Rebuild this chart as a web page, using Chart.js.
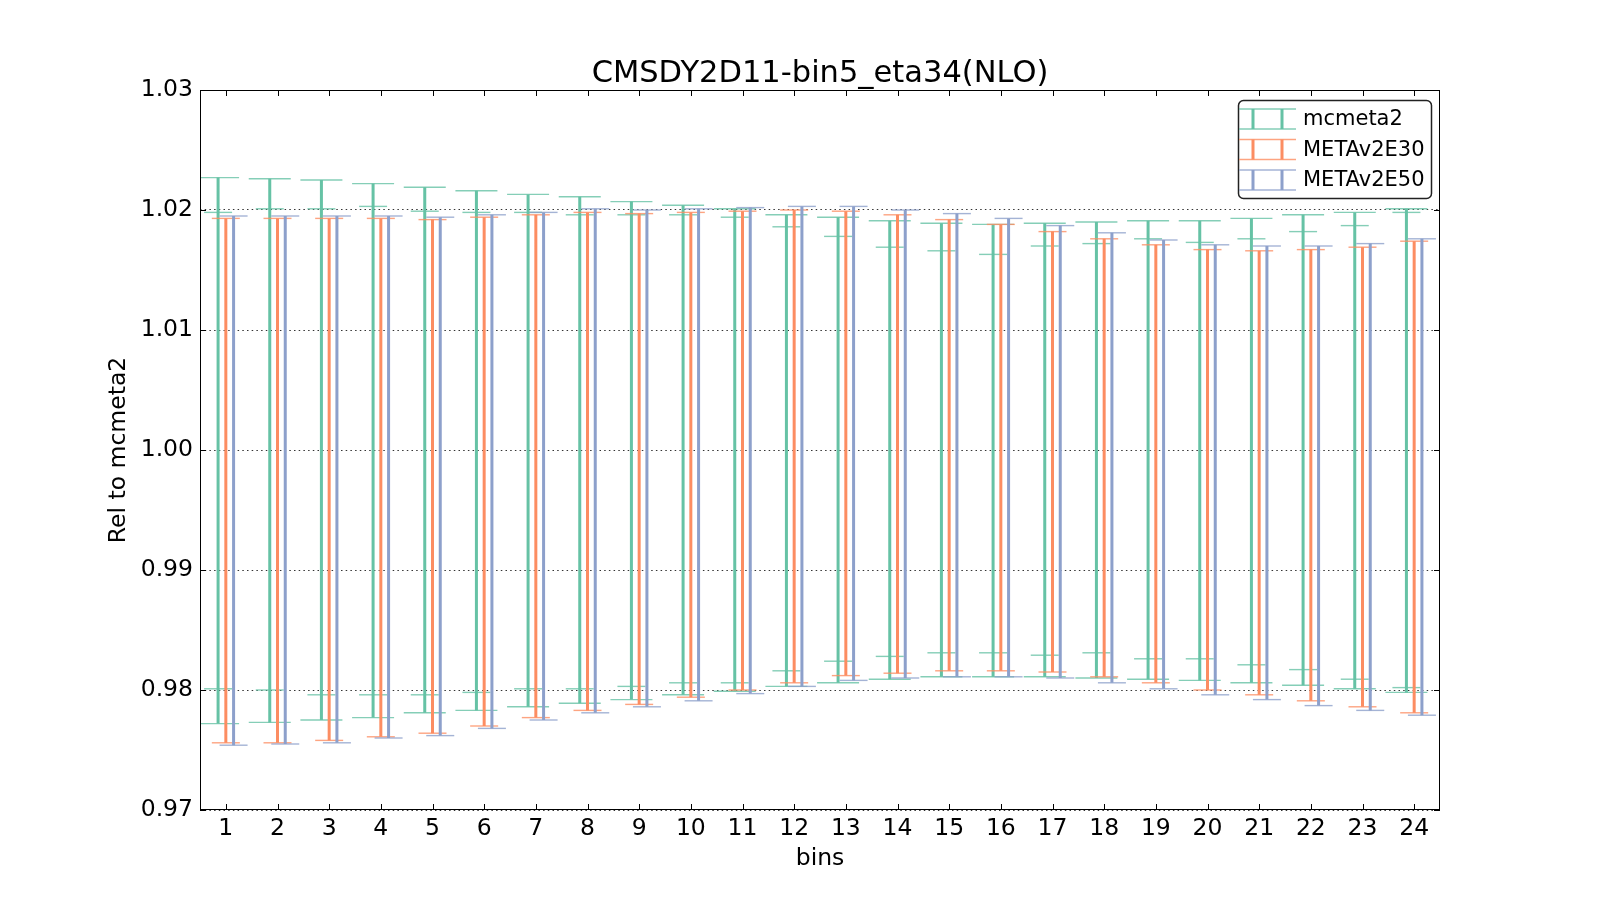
<!DOCTYPE html>
<html>
<head>
<meta charset="utf-8">
<script src="https://cdn.jsdelivr.net/npm/chart.js@4.4.1/dist/chart.umd.min.js"></script>
<style>
  html, body { margin: 0; padding: 0; background: #fff; }
</style>
</head>
<body>
<canvas id="chart" width="1600" height="900"></canvas>
<script>
const bins = [1, 2, 3, 4, 5, 6, 7, 8, 9, 10, 11, 12, 13, 14, 15, 16, 17, 18, 19, 20, 21, 22, 23, 24];
const yTicks = [0.97, 0.98, 0.99, 1.00, 1.01, 1.02, 1.03];
const yTickLabels = ['0.97', '0.98', '0.99', '1.00', '1.01', '1.02', '1.03'];
const seriesNames = ['mcmeta2', 'METAv2E30', 'METAv2E50'];

// mcmeta2: outer band and inner band
const mcmetaHi = [1.0227, 1.0226, 1.0225, 1.0222, 1.0219, 1.0216, 1.0213, 1.0211, 1.0207, 1.0204, 1.0201, 1.0196,
                  1.0194, 1.0191, 1.0189, 1.0188, 1.0189, 1.0190, 1.0191, 1.0191, 1.0193, 1.0196, 1.0198, 1.0201];
const mcmetaLo = [0.9772, 0.9773, 0.9775, 0.9777, 0.9781, 0.9783, 0.9786, 0.9789, 0.9792, 0.9796, 0.9799, 0.9803,
                  0.9806, 0.9809, 0.9811, 0.9811, 0.9811, 0.9810, 0.9809, 0.9808, 0.9806, 0.9804, 0.9801, 0.9798];
const mcmetaInHi = [1.0198, 1.0201, 1.0201, 1.0203, 1.0199, 1.0198, 1.0198, 1.0196, 1.0196, 1.0196, 1.0194, 1.0186,
                    1.0178, 1.0169, 1.0166, 1.0163, 1.0170, 1.0172, 1.0176, 1.0173, 1.0176, 1.0182, 1.0187, 1.0198];
const mcmetaInLo = [0.9801, 0.9800, 0.9796, 0.9796, 0.9796, 0.9798, 0.9801, 0.9801, 0.9803, 0.9806, 0.9806, 0.9816,
                    0.9824, 0.9828, 0.9831, 0.9831, 0.9829, 0.9831, 0.9826, 0.9826, 0.9821, 0.9817, 0.9809, 0.9802];

const e30Hi = [1.0193, 1.0193, 1.0193, 1.0193, 1.0192, 1.0194, 1.0196, 1.0198, 1.0197, 1.0198, 1.0199, 1.0200,
               1.0199, 1.0196, 1.0192, 1.0188, 1.0182, 1.0176, 1.0171, 1.0167, 1.0166, 1.0167, 1.0169, 1.0174];
const e30Lo = [0.9756, 0.9756, 0.9758, 0.9761, 0.9764, 0.9770, 0.9777, 0.9783, 0.9788, 0.9794, 0.9800, 0.9806,
               0.9812, 0.9814, 0.9816, 0.9816, 0.9815, 0.9811, 0.9806, 0.9800, 0.9796, 0.9791, 0.9786, 0.9781];

const e50Hi = [1.0195, 1.0195, 1.0195, 1.0195, 1.0194, 1.0196, 1.0198, 1.0201, 1.0200, 1.0201, 1.0202, 1.0203,
               1.0203, 1.0200, 1.0197, 1.0193, 1.0187, 1.0181, 1.0175, 1.0171, 1.0170, 1.0170, 1.0172, 1.0176];
const e50Lo = [0.9754, 0.9755, 0.9756, 0.9760, 0.9762, 0.9768, 0.9775, 0.9781, 0.9786, 0.9791, 0.9797, 0.9803,
               0.9808, 0.9810, 0.9811, 0.9811, 0.9810, 0.9806, 0.9801, 0.9796, 0.9792, 0.9787, 0.9783, 0.9779];

const colors = ['#66c2a5', '#fc8d62', '#8da0cb'];
const capColors = ['rgba(102,194,165,0.8)', 'rgba(252,141,98,0.8)', 'rgba(141,160,203,0.8)'];
const FONT = "'DejaVu Sans', sans-serif";

function stemPoints(offset, lo, hi) {
    const pts = [];
    bins.forEach((b, i) => {
        pts.push({ x: b + offset, y: lo[i] }, { x: b + offset, y: hi[i] }, { x: b + offset, y: null });
    });
    return pts;
}

function capPoints(offset, lo, hi) {
    const pts = [];
    bins.forEach((b, i) => {
        pts.push({ x: b + offset, y: lo[i] }, { x: b + offset, y: hi[i] });
    });
    return pts;
}

function stem(idx, offset, lo, hi) {
    return {
        type: 'line', data: stemPoints(offset, lo, hi), borderColor: colors[idx], borderWidth: 3,
        pointRadius: 0, spanGaps: false, order: 10 - idx * 3
    };
}

function caps(idx, offset, lo, hi, half) {
    return {
        type: 'scatter', data: capPoints(offset, lo, hi), pointStyle: 'line', pointRadius: half,
        borderColor: capColors[idx], pointBorderWidth: 1.4, borderWidth: 1.4, showLine: false, order: 9 - idx * 3
    };
}

// frame, inward ticks, title and legend
const decorPlugin = {
    id: 'decor',
    afterDraw(chart) {
        const { ctx, chartArea: a, scales } = chart;
        ctx.save();
        ctx.strokeStyle = '#000';
        ctx.lineWidth = 1;
        ctx.beginPath();
        yTicks.forEach(v => {
            const y = Math.round(scales.y.getPixelForValue(v)) + 0.5;
            ctx.moveTo(a.left, y); ctx.lineTo(a.left + 6, y);
            ctx.moveTo(a.right, y); ctx.lineTo(a.right - 6, y);
        });
        bins.forEach(v => {
            const x = Math.round(scales.x.getPixelForValue(v)) + 0.5;
            ctx.moveTo(x, a.bottom); ctx.lineTo(x, a.bottom - 6);
            ctx.moveTo(x, a.top); ctx.lineTo(x, a.top + 6);
        });
        ctx.stroke();
        ctx.strokeRect(a.left + 0.5, a.top + 0.5, a.right - a.left - 1, a.bottom - a.top - 1);

        // title
        ctx.fillStyle = '#000';
        ctx.font = '30.5px ' + FONT;
        ctx.textAlign = 'center';
        ctx.textBaseline = 'middle';
        ctx.fillText('CMSDY2D11-bin5_eta34(NLO)', (a.left + a.right) / 2, 74.5);

        // legend
        const bw = 193, bh = 98;
        const bx = a.right - 9 - bw, by = a.top + 10;
        ctx.beginPath();
        ctx.roundRect(bx + 0.5, by + 0.5, bw, bh, 5);
        ctx.fillStyle = '#fff';
        ctx.fill();
        ctx.strokeStyle = '#222';
        ctx.lineWidth = 1.5;
        ctx.stroke();
        ctx.font = '21px ' + FONT;
        ctx.textAlign = 'left';
        seriesNames.forEach((name, i) => {
            const cy = by + 19 + i * 30.5;
            const x0 = bx + 1;
            ctx.strokeStyle = capColors[i];
            ctx.lineWidth = 1.4;
            ctx.beginPath();
            ctx.moveTo(x0, cy - 10); ctx.lineTo(x0 + 57, cy - 10);
            ctx.moveTo(x0, cy + 10); ctx.lineTo(x0 + 57, cy + 10);
            ctx.stroke();
            ctx.strokeStyle = colors[i];
            ctx.lineWidth = 3;
            ctx.beginPath();
            ctx.moveTo(x0 + 14, cy - 10); ctx.lineTo(x0 + 14, cy + 10);
            ctx.moveTo(x0 + 43, cy - 10); ctx.lineTo(x0 + 43, cy + 10);
            ctx.stroke();
            ctx.fillStyle = '#000';
            ctx.fillText(name, bx + 65, cy + 1);
        });
        ctx.restore();
    }
};

new Chart(document.getElementById('chart'), {
    type: 'line',
    data: {
        datasets: [
            stem(0, -0.15, mcmetaLo, mcmetaHi),
            caps(0, -0.15, mcmetaLo, mcmetaHi, 21),
            caps(0, -0.15, mcmetaInLo, mcmetaInHi, 14),
            stem(1, 0, e30Lo, e30Hi),
            caps(1, 0, e30Lo, e30Hi, 14),
            stem(2, 0.15, e50Lo, e50Hi),
            caps(2, 0.15, e50Lo, e50Hi, 14)
        ]
    },
    options: {
        responsive: false,
        animation: false,
        events: [],
        layout: { padding: { top: 90, right: 160, left: 0, bottom: 0 } },
        plugins: { legend: { display: false }, tooltip: { enabled: false }, title: { display: false } },
        scales: {
            x: {
                type: 'linear', min: 0.5, max: 24.5,
                afterBuildTicks: s => { s.ticks = bins.map(v => ({ value: v })); },
                afterFit: s => { s.height = 90; },
                grid: { display: false, drawTicks: false },
                border: { display: false },
                ticks: { color: '#000', font: { family: FONT, size: 23.5 }, padding: 5, maxRotation: 0, autoSkip: false,
                         callback: v => String(v) },
                title: { display: true, text: 'bins', color: '#000', font: { family: FONT, size: 23.5 },
                         padding: { top: 0, bottom: 27 } }
            },
            y: {
                type: 'linear', min: 0.97, max: 1.03,
                afterBuildTicks: s => { s.ticks = yTicks.map(v => ({ value: v })); },
                afterFit: s => { s.width = 200; },
                grid: { display: true, drawTicks: false, color: '#333', lineWidth: 1 },
                border: { display: false, dash: [1.5, 3.2] },
                ticks: { color: '#000', font: { family: FONT, size: 23.5 }, padding: 7,
                         callback: (v, i) => yTickLabels[i] },
                title: { display: true, text: 'Rel to mcmeta2', color: '#000', font: { family: FONT, size: 23.5 },
                         padding: { top: 105, bottom: 0 } }
            }
        }
    },
    plugins: [decorPlugin]
});
</script>
</body>
</html>
